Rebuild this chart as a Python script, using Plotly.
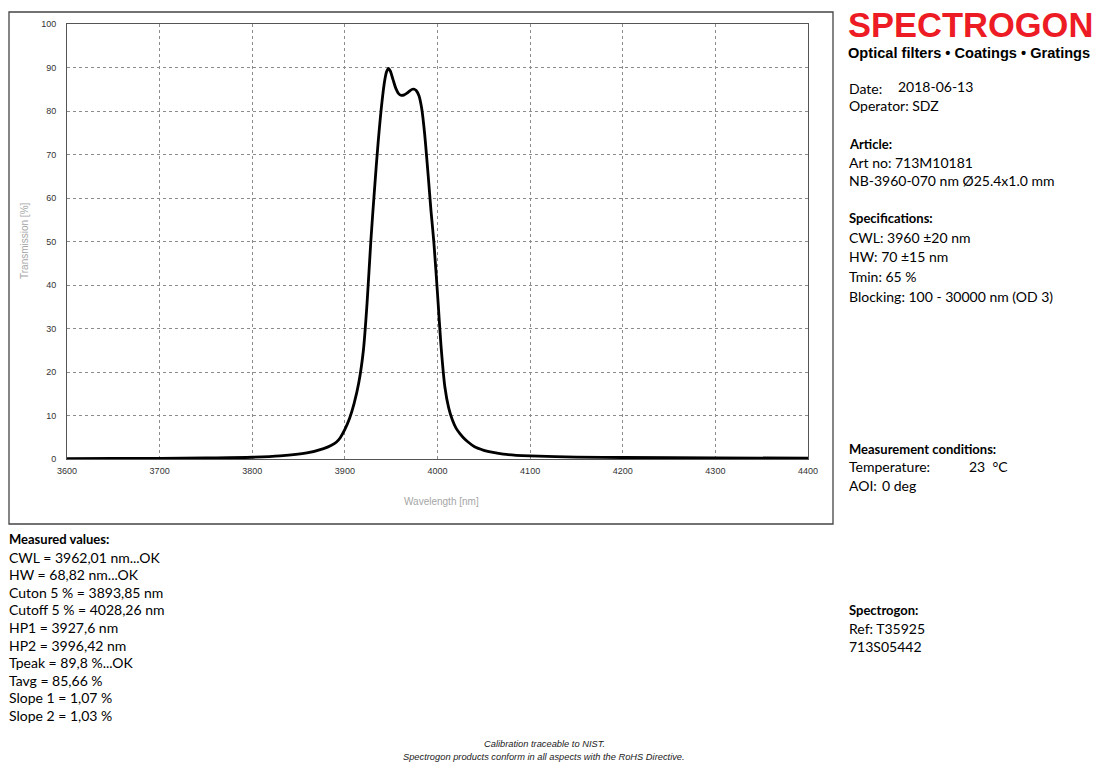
import plotly.graph_objects as go

# ---------------- data ----------------
wavelength = [3600, 3650, 3700, 3750, 3800, 3830, 3859, 3877, 3885, 3891, 3895, 3900, 3905, 3910,
              3915, 3920, 3924, 3928, 3932, 3936, 3940, 3943, 3945, 3947, 3949, 3952, 3955, 3958,
              3961, 3964, 3967, 3970, 3973, 3975, 3977, 3980, 3983, 3986, 3990, 3993, 3996, 4000,
              4004, 4008, 4012, 4016, 4020, 4024, 4028, 4033, 4040, 4050, 4060, 4071, 4085, 4100,
              4150, 4200, 4300, 4400]
transmission = [0.1, 0.12, 0.15, 0.25, 0.4, 0.7, 1.4, 2.4, 3.1, 3.9, 4.9, 6.8, 9.3, 12.8,
                17.5, 25.0, 36.0, 50.0, 62.0, 73.0, 82.0, 87.0, 89.0, 89.8, 89.2, 87.2, 85.2, 84.0,
                83.6, 83.7, 84.1, 84.6, 85.0, 85.0, 84.7, 83.5, 80.5, 75.0, 65.0, 57.0, 50.0, 38.0,
                25.5, 16.5, 11.8, 9.0, 7.1, 5.9, 4.9, 3.9, 2.8, 2.0, 1.5, 1.1, 0.85, 0.7,
                0.45, 0.35, 0.25, 0.2]

x_ticks = [3600, 3700, 3800, 3900, 4000, 4100, 4200, 4300, 4400]
y_ticks = [0, 10, 20, 30, 40, 50, 60, 70, 80, 90, 100]

header_lines = ["SPECTROGON", "Optical filters • Coatings • Gratings"]
info_lines = ["Operator: SDZ"]
article_lines = ["Art no: 713M10181", "NB-3960-070 nm Ø25.4x1.0 mm"]
spec_lines = ["CWL: 3960 ±20 nm", "HW: 70 ±15 nm", "Tmin: 65 %", "Blocking: 100 - 30000 nm (OD 3)"]
ref_lines = ["Ref: T35925", "713S05442"]
measured_lines = ["CWL = 3962,01 nm...OK", "HW = 68,82 nm...OK", "Cuton 5 % = 3893,85 nm",
                  "Cutoff 5 % = 4028,26 nm", "HP1 = 3927,6 nm", "HP2 = 3996,42 nm",
                  "Tpeak = 89,8 %...OK", "Tavg = 85,66 %", "Slope 1 = 1,07 %", "Slope 2 = 1,03 %"]
footer_lines = ["Calibration traceable to NIST.",
                "Spectrogon products conform in all aspects with the RoHS Directive."]

# ---------------- layout geometry ----------------
W, H = 1097, 763
L, R, T, B = 67, 808, 24, 459


def px(x):
    return (x - L) / (R - L)


def py(y):
    return (B - y) / (B - T)


BODY = "Lato, Carlito, Calibri, sans-serif"
ARIAL = "Liberation Sans, Arial, sans-serif"

fig = go.Figure()
fig.add_trace(go.Scatter(x=wavelength, y=transmission, mode="lines",
                         line=dict(color="black", width=2.8, shape="spline", smoothing=0.8),
                         hoverinfo="x+y", showlegend=False))

annotations = []


def txt(text, x, y, size=14, bold=False, color="#000", family=BODY, xanchor="left", italic=False):
    if italic:
        text = "<i>" + text + "</i>"
    annotations.append(dict(text=text, x=px(x), y=py(y), xref="paper", yref="paper",
                            xanchor=xanchor, yanchor="middle", showarrow=False, borderpad=0,
                            font=dict(size=size, color=color, family=family,
                                      weight="bold" if bold else "normal")))


# axis titles
annotations.append(dict(text="Transmission [%]", x=px(24), y=py(241), xref="paper", yref="paper",
                        textangle=-90, showarrow=False, xanchor="center", yanchor="middle",
                        font=dict(size=10, color="#a6a6a6", family=ARIAL)))
txt("Wavelength [nm]", 441, 502, size=10, color="#a6a6a6", family=ARIAL, xanchor="center")

# header
txt(header_lines[0], 847, 25, size=34.5, bold=True, color="#ED1C24", family=ARIAL)
txt(header_lines[1], 847, 52.5, size=14.6, bold=True, family=ARIAL)

X0 = 848
txt("Date:", X0, 88)
txt("2018-06-13", 897, 87)
for i, s in enumerate(info_lines):
    txt(s, X0, 106 + i * 19)

txt("Article:", X0, 144, size=13, bold=True)
for i, s in enumerate(article_lines):
    txt(s, X0, 162 + i * 18.5)

txt("Specifications:", X0, 218, size=13, bold=True)
for i, s in enumerate(spec_lines):
    txt(s, X0, 237 + i * 19.7)

txt("Measurement conditions:", X0, 449, size=13, bold=True)
txt("Temperature:", X0, 467)
txt("23  °C", 968, 467)
txt("AOI:", X0, 486)
txt("0 deg", 881, 486)

txt("Spectrogon:", X0, 610, size=13, bold=True)
for i, s in enumerate(ref_lines):
    txt(s, X0, 628 + i * 18)

txt("Measured values:", 8, 539, size=13, bold=True)
for i, s in enumerate(measured_lines):
    txt(s, 8, 557 + i * 17.6)

for i, s in enumerate(footer_lines):
    txt(s, 544, 744 + i * 13, size=9.3, italic=True, color="#222", family=ARIAL, xanchor="center")

# outer frame
shapes = [dict(type="rect", xref="paper", yref="paper",
               x0=px(9), x1=px(833), y0=py(524), y1=py(12),
               line=dict(color="#444", width=1.3), fillcolor="rgba(0,0,0,0)", layer="below")]

axis_common = dict(showgrid=True, gridcolor="#8c8c8c", griddash="dot", gridwidth=1,
                   showline=True, linecolor="#555", linewidth=1, mirror=True,
                   zeroline=False, ticks="", tickfont=dict(size=9, color="#333", family=ARIAL))

fig.update_layout(
    width=W, height=H,
    margin=dict(l=L, r=W - R, t=T, b=H - B, pad=0),
    paper_bgcolor="white", plot_bgcolor="white",
    xaxis=dict(range=[3600, 4400], tickvals=x_ticks, ticktext=[str(v) for v in x_ticks],
               ticklabelstandoff=3, **axis_common),
    yaxis=dict(range=[0, 100], tickvals=y_ticks, ticktext=[str(v) for v in y_ticks],
               ticklabelstandoff=8, **axis_common),
    annotations=annotations,
    shapes=shapes,
    showlegend=False,
)

fig.write_html("out.html", config={"displayModeBar": False},
               post_script="document.body.style.margin='0';document.body.style.overflow='hidden';")
